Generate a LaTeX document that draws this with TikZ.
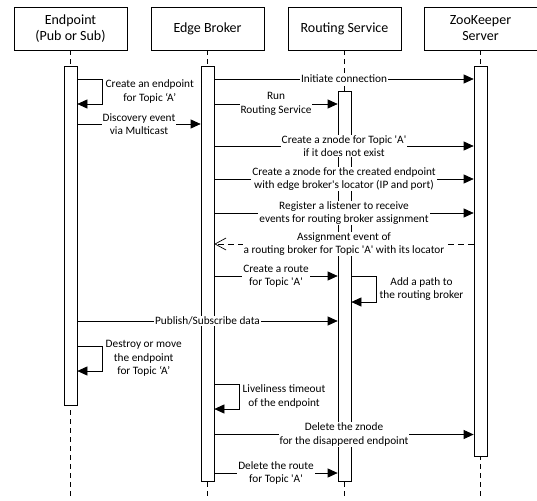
\documentclass[tikz,border=0pt]{standalone}
\usepackage{fontspec}
\setmainfont{Carlito}
\usetikzlibrary{arrows.meta}

\begin{document}
\begin{tikzpicture}[x=1pt, y=-1pt, line width=0.7pt,
    head/.style={draw, minimum width=113pt, minimum height=43pt, align=center,
      font=\fontsize{14}{16}\selectfont},
    bar/.style={draw, fill=white, minimum width=13pt, anchor=north, inner sep=0pt},
    life/.style={dash pattern=on 5pt off 4pt},
    msg/.style={-{Triangle[length=10pt,width=9pt]}},
    ret/.style={dash pattern=on 6pt off 4pt, -{Straight Barb[length=11pt,width=12pt]}},
    lbl/.style={fill=white, inner xsep=1pt, inner ysep=0.5pt, align=center,
      font=\fontsize{11.3}{13.4}\selectfont},
    slbl/.style={right, inner sep=3pt, align=center, font=\fontsize{11.3}{13.4}\selectfont}]
    \useasboundingbox (0,0) rectangle (537,500);

    % the participants
    \node[head] (ep) at (70.5,28.5) {Endpoint\\(Pub or Sub)};
    \node[head] (eb) at (207.5,28.5) {Edge Broker};
    \node[head] (rs) at (344.5,28.5) {Routing Service};
    \node[head] (zk) at (480.5,28.5) {ZooKeeper\\Server};

    % draw the lifelines
    \coordinate (epend) at (70.5,500);
    \coordinate (ebend) at (207.5,500);
    \coordinate (rsend) at (344.5,500);
    \coordinate (zkend) at (480.5,500);
    \draw[life] (ep) -- (epend);
    \draw[life] (eb) -- (ebend);
    \draw[life] (rs) -- (rsend);
    \draw[life] (zk) -- (zkend);

    % the activation bars
    \node[bar, minimum height=339pt] (epbar) at (70.5,66) {};
    \node[bar, minimum height=415pt] (ebbar) at (207.5,66) {};
    \node[bar, minimum height=390pt] (rsbar) at (344.5,91) {};
    \node[bar, minimum height=390pt] (zkbar) at (480.5,66) {};

    % draw the messages
    \draw[msg] (ebbar.east |- 0,79) -- node[lbl] (initconn) {Initiate connection} (zkbar.west |- 0,79);
    \draw[msg] (epbar.east |- 0,79) -- ++(25,0) -- ++(0,25)
      node[midway, slbl] (createep) {Create an endpoint\\for Topic ‘A’} -- (epbar.east |- 0,104);
    \draw[msg] (ebbar.east |- 0,104) -- node[lbl] (runrs) {Run\\Routing Service} (rsbar.west |- 0,104);
    \draw[msg] (epbar.east |- 0,124) -- node[lbl] (discovery) {Discovery event\\via Multicast} (ebbar.west |- 0,124);
    \draw[msg] (ebbar.east |- 0,146) -- node[lbl] (topicznode)
      {Create a znode for Topic \textquotesingle A\textquotesingle\\if it does not exist} (zkbar.west |- 0,146);
    \draw[msg] (ebbar.east |- 0,179) -- node[lbl] (epznode)
      {Create a znode for the created endpoint\\with edge broker\textquotesingle s locator (IP and port)} (zkbar.west |- 0,179);
    \draw[msg] (ebbar.east |- 0,213) -- node[lbl] (listener)
      {Register a listener to receive\\events for routing broker assignment} (zkbar.west |- 0,213);
    \draw[ret] (zkbar.west |- 0,244) -- node[lbl] (assignment)
      {Assignment event of\\a routing broker for Topic \textquotesingle A\textquotesingle\ with its locator} (ebbar.east |- 0,244);
    \draw[msg] (ebbar.east |- 0,276) -- node[lbl] (route)
      {Create a route\\for Topic \textquotesingle A\textquotesingle} (rsbar.west |- 0,276);
    \draw[msg] (rsbar.east |- 0,276) -- ++(25,0) -- ++(0,26)
      node[midway, slbl] (path) {Add a path to\\the routing broker} -- (rsbar.east |- 0,302);
    \draw[msg] (epbar.east |- 0,321) -- node[lbl] (pubsub) {Publish/Subscribe data} (rsbar.west |- 0,321);
    \draw[msg] (epbar.east |- 0,346) -- ++(25,0) -- ++(0,25)
      node[midway, slbl] (destroy) {Destroy or move\\the endpoint\\for Topic ‘A’} -- (epbar.east |- 0,371);
    \draw[msg] (ebbar.east |- 0,384) -- ++(25,0) -- ++(0,25)
      node[midway, slbl] (timeout) {Liveliness timeout\\of the endpoint} -- (ebbar.east |- 0,409);
    \draw[msg] (ebbar.east |- 0,434.5) -- node[lbl] (delznode)
      {Delete the znode\\for the disappered endpoint} (zkbar.west |- 0,434.5);
    \draw[msg] (ebbar.east |- 0,473) -- node[lbl] (delroute)
      {Delete the route\\for Topic \textquotesingle A\textquotesingle} (rsbar.west |- 0,473);

\end{tikzpicture}
\end{document}
